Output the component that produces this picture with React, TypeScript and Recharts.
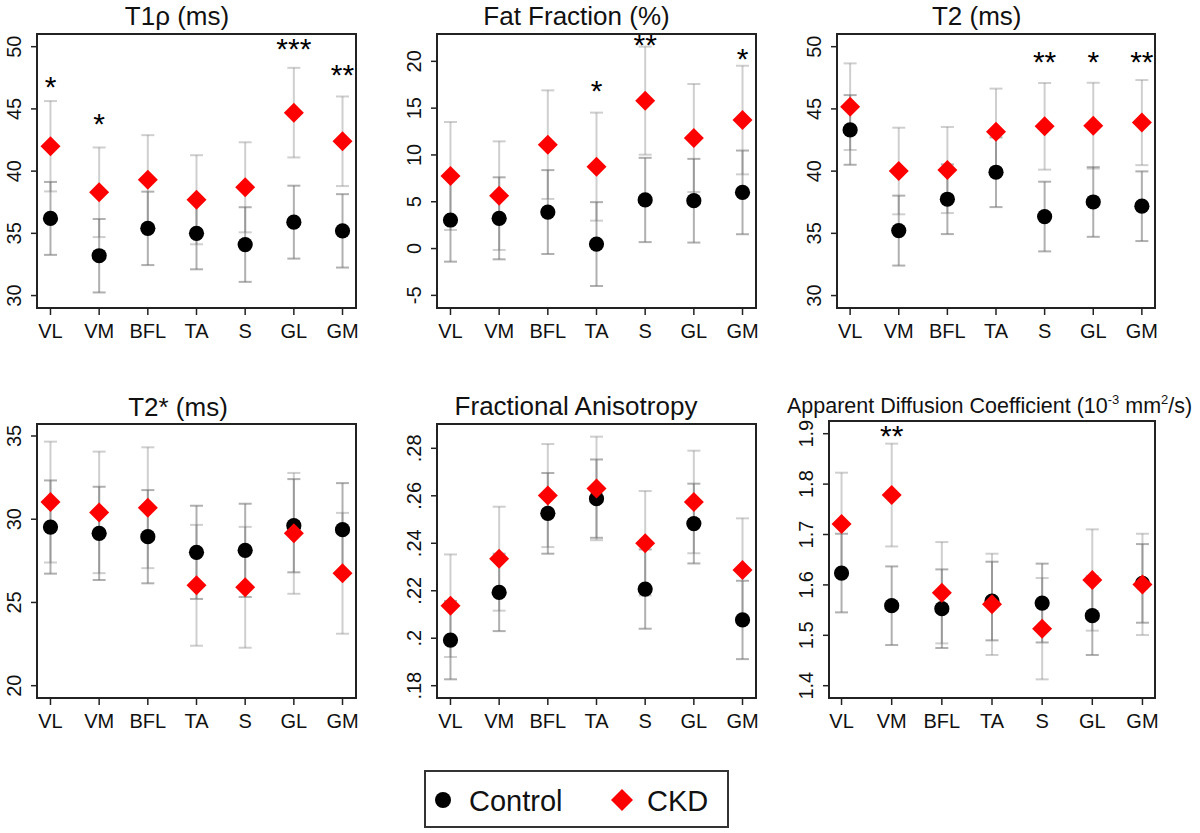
import React from 'react';
import { ScatterChart, Scatter, XAxis, YAxis, ErrorBar, ReferenceArea } from 'recharts';

const muscles = ['VL', 'VM', 'BFL', 'TA', 'S', 'GL', 'GM'];

// T1rho (ms)
const t1rhoControl = [36.2, 33.2, 35.4, 35.0, 34.1, 35.9, 35.2];
const t1rhoControlSd = [2.93, 2.95, 2.95, 2.89, 3.0, 2.93, 2.95];
const t1rhoCkd = [42.0, 38.3, 39.3, 37.7, 38.7, 44.7, 42.4];
const t1rhoCkdSd = [3.63, 3.6, 3.59, 3.58, 3.62, 3.6, 3.6];
const t1rhoStars = [
    { x: 1, y: 47.05, mark: '*' },
    { x: 2, y: 44.1, mark: '*' },
    { x: 6, y: 50.13, mark: '***' },
    { x: 7, y: 48.05, mark: '**' },
];

// Fat fraction (%)
const ffControl = [3.05, 3.23, 3.9, 0.48, 5.19, 5.11, 6.0];
const ffControlSd = [4.45, 4.38, 4.48, 4.48, 4.5, 4.47, 4.47];
const ffCkd = [7.75, 5.65, 11.1, 8.75, 15.8, 11.81, 13.73];
const ffCkdSd = [5.77, 5.8, 5.8, 5.77, 5.77, 5.77, 5.8];
const ffStars = [
    { x: 4, y: 17.22, mark: '*' },
    { x: 5, y: 22.14, mark: '**' },
    { x: 7, y: 20.68, mark: '*' },
];

// T2 (ms)
const t2Control = [43.31, 35.22, 37.74, 39.91, 36.35, 37.52, 37.18];
const t2ControlSd = [2.8, 2.81, 2.8, 2.8, 2.8, 2.8, 2.8];
const t2Ckd = [45.18, 40.01, 40.09, 43.17, 43.6, 43.65, 43.9];
const t2CkdSd = [3.48, 3.48, 3.46, 3.46, 3.48, 3.45, 3.42];
const t2Stars = [
    { x: 5, y: 49.06, mark: '**' },
    { x: 6, y: 49.06, mark: '*' },
    { x: 7, y: 49.06, mark: '**' },
];

// T2* (ms)
const t2sControl = [29.53, 29.15, 28.95, 28.01, 28.13, 29.61, 29.37];
const t2sControlSd = [2.8, 2.8, 2.8, 2.8, 2.8, 2.8, 2.8];
const t2sCkd = [31.03, 30.41, 30.69, 26.03, 25.91, 29.15, 26.75];
const t2sCkdSd = [3.63, 3.65, 3.63, 3.63, 3.63, 3.63, 3.63];

// Fractional anisotropy
const faControl = [0.1992, 0.2193, 0.2526, 0.2588, 0.2207, 0.2483, 0.2077];
const faControlSd = [0.0165, 0.0163, 0.017, 0.0165, 0.0167, 0.0168, 0.0165];
const faCkd = [0.2137, 0.2335, 0.2601, 0.2631, 0.24, 0.2574, 0.2287];
const faCkdSd = [0.0216, 0.0219, 0.0217, 0.0218, 0.022, 0.0216, 0.0218];

// ADC (10^-3 mm^2/s)
const adcControl = [1.6235, 1.5587, 1.5528, 1.568, 1.564, 1.5389, 1.603];
const adcControlSd = [0.078, 0.078, 0.078, 0.078, 0.0782, 0.078, 0.078];
const adcCkd = [1.7208, 1.7783, 1.5845, 1.5614, 1.5131, 1.6097, 1.601];
const adcCkdSd = [0.1018, 0.102, 0.1005, 0.1005, 0.1005, 0.1005, 0.1005];
const adcStars = [{ x: 2, y: 1.9026, mark: '**' }];

const FONT = '"Liberation Sans", Arial, Helvetica, sans-serif';
const catTicks = [1, 2, 3, 4, 5, 6, 7];

const plain = (v: number) => String(v);
const noLeadZero = (v: number) => v.toFixed(2).replace(/^0/, '').replace(/0$/, '');
const oneDec = (v: number) => v.toFixed(1);

const rows = (vals: number[], sd: number[]) =>
    vals.map((v, i) => ({ x: i + 1, y: v, err: sd[i] }));

const panels = [
    {
        id: 't1rho', box: [37, 356, 34, 308], yDomain: [29.0, 51.02], yTicks: [30, 35, 40, 45, 50],
        fmt: plain, xPad: 0.277,
        control: rows(t1rhoControl, t1rhoControlSd), ckd: rows(t1rhoCkd, t1rhoCkdSd), stars: t1rhoStars,
    },
    {
        id: 'ff', box: [437, 756, 34, 308], yDomain: [-6.35, 22.92], yTicks: [-5, 0, 5, 10, 15, 20],
        fmt: plain, xPad: 0.277,
        control: rows(ffControl, ffControlSd), ckd: rows(ffCkd, ffCkdSd), stars: ffStars,
    },
    {
        id: 't2', box: [837, 1155, 34, 308], yDomain: [29.0, 51.02], yTicks: [30, 35, 40, 45, 50],
        fmt: plain, xPad: 0.27,
        control: rows(t2Control, t2ControlSd), ckd: rows(t2Ckd, t2CkdSd), stars: t2Stars,
    },
    {
        id: 't2s', box: [37, 356, 424, 698], yDomain: [19.26, 35.72], yTicks: [20, 25, 30, 35],
        fmt: plain, xPad: 0.277,
        control: rows(t2sControl, t2sControlSd), ckd: rows(t2sCkd, t2sCkdSd), stars: [],
    },
    {
        id: 'fa', box: [437, 756, 424, 698], yDomain: [0.17482, 0.29024], yTicks: [0.18, 0.2, 0.22, 0.24, 0.26, 0.28],
        fmt: noLeadZero, xPad: 0.277,
        control: rows(faControl, faControlSd), ckd: rows(faCkd, faCkdSd), stars: [],
    },
    {
        id: 'adc', box: [829, 1155, 421, 698], yDomain: [1.3756, 1.9252], yTicks: [1.4, 1.5, 1.6, 1.7, 1.8, 1.9],
        fmt: oneDec, xPad: 0.25,
        control: rows(adcControl, adcControlSd), ckd: rows(adcCkd, adcCkdSd), stars: adcStars,
    },
];

const Dot = (p: any) => <circle cx={p.cx} cy={p.cy} r={7.6} fill="#000" />;
const Diamond = (p: any) => {
    const s = 10;
    return (
        <polygon
            points={`${p.cx},${p.cy - s} ${p.cx + s},${p.cy} ${p.cx},${p.cy + s} ${p.cx - s},${p.cy}`}
            fill="#ff0000"
        />
    );
};
const Star = (p: any) => (
    <text x={p.cx} y={p.cy} dy="0.47em" textAnchor="middle" fontSize={30} fill="#000" fontFamily={FONT}>
        {p.payload.mark}
    </text>
);
const Nothing = () => <g />;

function Panel({ cfg }: { cfg: any }) {
    const [l, r, t, b] = cfg.box;
    const padL = 44, padT = 12, padR = 12, padB = 44;
    const xDomain = [1 - cfg.xPad, 7 + cfg.xPad];

    return (
        <div style={{ position: 'absolute', left: l - padL, top: t - padT }}>
            <ScatterChart
                width={r - l + padL + padR}
                height={b - t + padT + padB}
                margin={{ top: padT, right: padR, bottom: 0, left: 0 }}
            >
                <XAxis
                    type="number"
                    dataKey="x"
                    domain={xDomain}
                    allowDataOverflow
                    ticks={catTicks}
                    interval={0}
                    height={padB}
                    axisLine={false}
                    tickLine={{ stroke: '#222', strokeWidth: 1.5 }}
                    tickSize={7}
                    tickMargin={9}
                    tickFormatter={(v: number) => muscles[v - 1]}
                    tick={{ fontSize: 20, fill: '#111', fontFamily: FONT }}
                />
                <YAxis
                    type="number"
                    dataKey="y"
                    domain={cfg.yDomain}
                    allowDataOverflow
                    ticks={cfg.yTicks}
                    interval={0}
                    width={padL}
                    axisLine={false}
                    tickLine={{ stroke: '#222', strokeWidth: 1.5 }}
                    tickSize={6}
                    tickMargin={2}
                    tick={(p: any) => (
                        <text
                            x={p.x - 8}
                            y={p.y}
                            transform={`rotate(-90 ${p.x - 8} ${p.y})`}
                            textAnchor="middle"
                            fontSize={20}
                            fill="#111"
                            fontFamily={FONT}
                        >
                            {cfg.fmt(p.payload.value)}
                        </text>
                    )}
                />
                <Scatter data={cfg.ckd} shape={Nothing} isAnimationActive={false}>
                    <ErrorBar dataKey="err" direction="y" width={6.5} stroke="#808080" strokeOpacity={0.38} strokeWidth={2} />
                </Scatter>
                <Scatter data={cfg.control} shape={Nothing} isAnimationActive={false}>
                    <ErrorBar dataKey="err" direction="y" width={6.5} stroke="#707070" strokeOpacity={0.55} strokeWidth={2} />
                </Scatter>
                <Scatter data={cfg.control} shape={Dot} isAnimationActive={false} />
                <Scatter data={cfg.ckd} shape={Diamond} isAnimationActive={false} />
                {cfg.stars.length > 0 && <Scatter data={cfg.stars} shape={Star} isAnimationActive={false} />}
                <ReferenceArea
                    x1={xDomain[0]}
                    x2={xDomain[1]}
                    y1={cfg.yDomain[0]}
                    y2={cfg.yDomain[1]}
                    fill="none"
                    stroke="#222"
                    strokeWidth={2}
                    ifOverflow="visible"
                />
            </ScatterChart>
        </div>
    );
}

export default function App() {
    return (
        <div
            style={{
                position: 'absolute',
                left: 0,
                top: 0,
                width: 1200,
                height: 833,
                background: '#fff',
                fontFamily: FONT,
            }}
        >
            {panels.map((cfg) => (
                <Panel key={cfg.id} cfg={cfg} />
            ))}
            <svg
                width={1200}
                height={833}
                style={{ position: 'absolute', left: 0, top: 0, pointerEvents: 'none' }}
                fontFamily={FONT}
                fill="#111"
            >
                <text x={177} y={25} fontSize={26} textAnchor="middle">T1ρ (ms)</text>
                <text x={576.5} y={25} fontSize={26} textAnchor="middle">Fat Fraction (%)</text>
                <text x={976.7} y={25} fontSize={26} textAnchor="middle">T2 (ms)</text>
                <text x={178} y={416} fontSize={26} textAnchor="middle">T2* (ms)</text>
                <text x={576} y={415} fontSize={26} textAnchor="middle">Fractional Anisotropy</text>
                <text x={787} y={413} fontSize={21.5}>
                    <tspan>Apparent Diffusion Coefficient (10</tspan>
                    <tspan dy={-9} fontSize={13}>-3</tspan>
                    <tspan dy={9}> mm</tspan>
                    <tspan dy={-9} fontSize={13}>2</tspan>
                    <tspan dy={9}>/s)</tspan>
                </text>

                <rect x={425} y={771} width={303} height={56} fill="#fff" stroke="#333" strokeWidth={2} />
                <circle cx={443} cy={800} r={8} fill="#000" />
                <text x={469} y={811} fontSize={29}>Control</text>
                <polygon points="622,789 633,800 622,811 611,800" fill="#ff0000" />
                <text x={647} y={811} fontSize={29}>CKD</text>
            </svg>
        </div>
    );
}
